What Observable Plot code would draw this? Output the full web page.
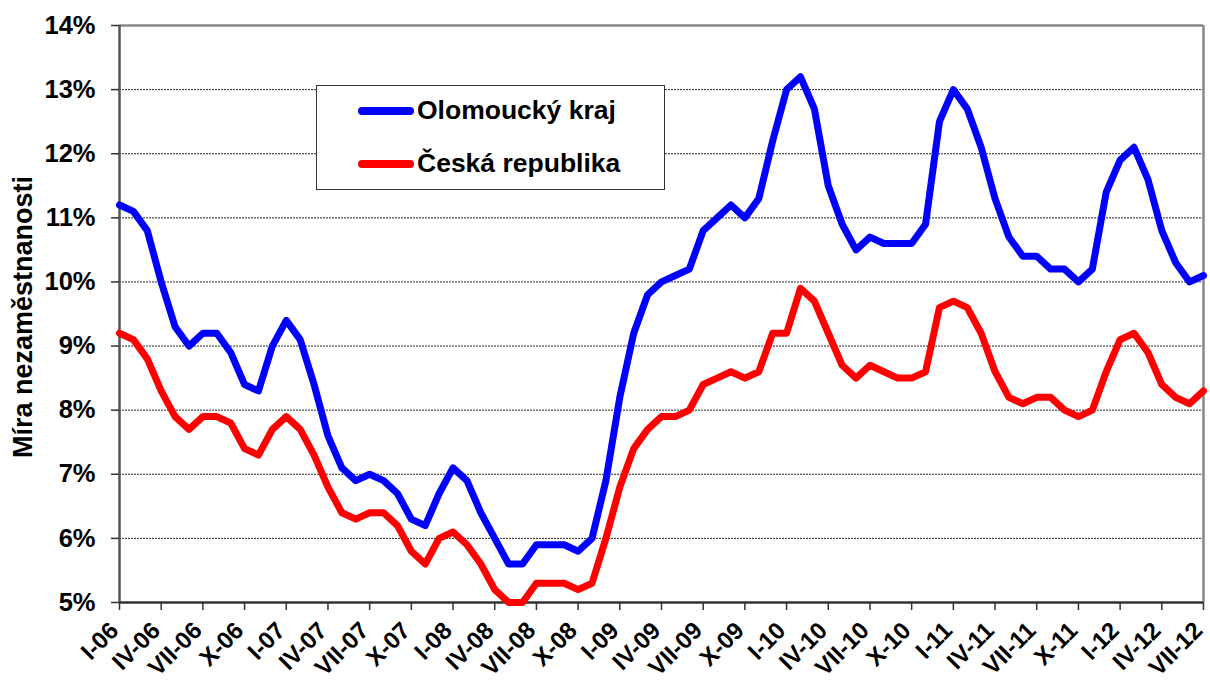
<!DOCTYPE html>
<html>
<head>
<meta charset="utf-8">
<script src="https://cdn.jsdelivr.net/npm/d3@7"></script>
<script src="https://cdn.jsdelivr.net/npm/@observablehq/plot@0.6"></script>
<style>
  html, body { margin: 0; padding: 0; background: #fff; }
  #wrap { position: relative; width: 1210px; height: 684px; font-family: "Liberation Sans", Arial, sans-serif; }
  #legend { position: absolute; left: 316px; top: 85px; width: 347px; height: 103px; border: 1.5px solid #333; background: #fff; }
  .item { position: absolute; left: 0; height: 30px; }
  .swatch { position: absolute; left: 41px; width: 56px; height: 8px; border-radius: 4px; }
  .lab { position: absolute; left: 100px; font-weight: bold; font-size: 26.5px; white-space: nowrap; color: #000; }
</style>
</head>
<body>
<div id="wrap">
  <div id="chart"></div>
  <div id="legend"></div>
</div>
<script>
// Series names
const seriesNames = ["Olomoucký kraj", "Česká republika"];
const seriesColors = ["#0000FF", "#FF0000"];

// X tick labels (every third month, I-06 ... VII-12)
const tickLabels = ["I-06","IV-06","VII-06","X-06","I-07","IV-07","VII-07","X-07",
  "I-08","IV-08","VII-08","X-08","I-09","IV-09","VII-09","X-09",
  "I-10","IV-10","VII-10","X-10","I-11","IV-11","VII-11","X-11",
  "I-12","IV-12","VII-12"];

// Y tick values (%)
const yTicks = [5, 6, 7, 8, 9, 10, 11, 12, 13, 14];

// Monthly unemployment rate (%), Jan 2006 – Jul 2012
const olomoucky = [
  11.2, 11.1, 10.8, 10.0, 9.3, 9.0, 9.2, 9.2, 8.9, 8.4, 8.3, 9.0,
  9.4, 9.1, 8.4, 7.6, 7.1, 6.9, 7.0, 6.9, 6.7, 6.3, 6.2, 6.7,
  7.1, 6.9, 6.4, 6.0, 5.6, 5.6, 5.9, 5.9, 5.9, 5.8, 6.0, 6.9,
  8.2, 9.2, 9.8, 10.0, 10.1, 10.2, 10.8, 11.0, 11.2, 11.0, 11.3, 12.2,
  13.0, 13.2, 12.7, 11.5, 10.9, 10.5, 10.7, 10.6, 10.6, 10.6, 10.9, 12.5,
  13.0, 12.7, 12.1, 11.3, 10.7, 10.4, 10.4, 10.2, 10.2, 10.0, 10.2, 11.4,
  11.9, 12.1, 11.6, 10.8, 10.3, 10.0, 10.1
];
const ceskaRepublika = [
  9.2, 9.1, 8.8, 8.3, 7.9, 7.7, 7.9, 7.9, 7.8, 7.4, 7.3, 7.7,
  7.9, 7.7, 7.3, 6.8, 6.4, 6.3, 6.4, 6.4, 6.2, 5.8, 5.6, 6.0,
  6.1, 5.9, 5.6, 5.2, 5.0, 5.0, 5.3, 5.3, 5.3, 5.2, 5.3, 6.0,
  6.8, 7.4, 7.7, 7.9, 7.9, 8.0, 8.4, 8.5, 8.6, 8.5, 8.6, 9.2,
  9.2, 9.9, 9.7, 9.2, 8.7, 8.5, 8.7, 8.6, 8.5, 8.5, 8.6, 9.6,
  9.7, 9.6, 9.2, 8.6, 8.2, 8.1, 8.2, 8.2, 8.0, 7.9, 8.0, 8.6,
  9.1, 9.2, 8.9, 8.4, 8.2, 8.1, 8.3
];

const data = [
  ...olomoucky.map((v, i) => ({i, v, s: seriesNames[0]})),
  ...ceskaRepublika.map((v, i) => ({i, v, s: seriesNames[1]}))
];
const lastIndex = olomoucky.length - 1;
const xTickValues = tickLabels.map((_, k) => k * 3);

const chart = Plot.plot({
  width: 1210,
  height: 684,
  marginLeft: 119,
  marginRight: 7,
  marginTop: 25,
  marginBottom: 82,
  style: {fontFamily: '"Liberation Sans", Arial, sans-serif', color: "#000", background: "#fff", overflow: "visible"},
  x: {domain: [0, lastIndex]},
  y: {domain: [yTicks[0], yTicks[yTicks.length - 1]]},
  color: {domain: seriesNames, range: seriesColors},
  marks: [
    Plot.gridY(yTicks.slice(1, -1), {stroke: "#111", strokeOpacity: 0.9, strokeDasharray: "2,1", strokeWidth: 1}),
    Plot.ruleY([yTicks[yTicks.length - 1]], {stroke: "#888", strokeWidth: 2.5}),
    Plot.ruleX([lastIndex], {stroke: "#888", strokeWidth: 2.5}),
    Plot.ruleX([0], {stroke: "#555", strokeWidth: 2.5}),
    Plot.ruleY([yTicks[0]], {stroke: "#333", strokeWidth: 2.5}),
    Plot.line(data, {x: "i", y: "v", z: "s", stroke: "s", strokeWidth: 7, strokeLinejoin: "round", strokeLinecap: "round"}),
    Plot.axisY(yTicks, {
      tickFormat: d => d + "%", fontSize: 25.5, fontWeight: "bold", tickSize: 8, tickPadding: 16,
      stroke: "#333", strokeWidth: 1.5, label: null
    }),
    Plot.axisX(xTickValues, {
      tickFormat: () => "", tickSize: 8, stroke: "#333", strokeWidth: 1.5, label: null
    }),
    Plot.text(xTickValues, {
      x: d => d, text: d => tickLabels[d / 3], frameAnchor: "bottom", dx: -5, dy: 24,
      rotate: -45, textAnchor: "end", lineAnchor: "middle",
      fontSize: 24, fontWeight: "bold", fill: "#000"
    }),
    Plot.text(["Míra nezaměstnanosti"], {
      frameAnchor: "left", dx: -96, dy: 3, rotate: -90, textAnchor: "middle", lineAnchor: "middle",
      fontSize: 27, fontWeight: "bold", fill: "#000"
    })
  ]
});
document.getElementById("chart").appendChild(chart);

// Legend
const legend = document.getElementById("legend");
seriesNames.forEach((name, k) => {
  const item = document.createElement("div");
  item.className = "item";
  item.style.top = (k === 0 ? 9 : 62) + "px";
  const sw = document.createElement("div");
  sw.className = "swatch";
  sw.style.background = seriesColors[k];
  sw.style.top = "12px";
  const lab = document.createElement("div");
  lab.className = "lab";
  lab.style.top = "0px";
  lab.textContent = name;
  item.appendChild(sw);
  item.appendChild(lab);
  legend.appendChild(item);
});
</script>
</body>
</html>
